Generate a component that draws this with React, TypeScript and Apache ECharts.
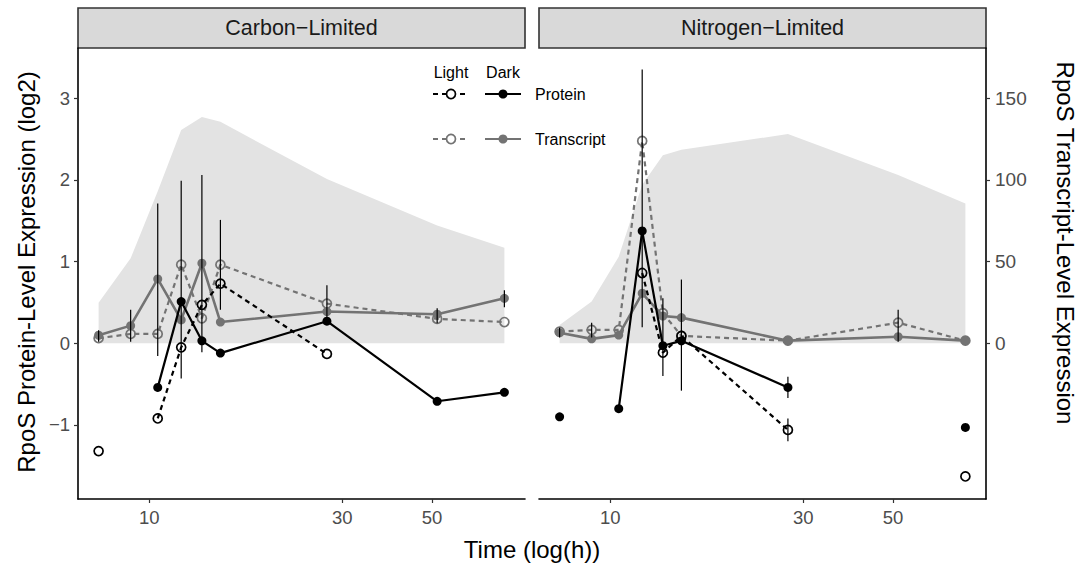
import React, { useEffect, useRef } from "react";
import * as echarts from "echarts";

// ---------- data ----------
const times = [7.5, 9, 10.5, 12, 13.5, 15, 27.5, 51.5, 75.5];
const panelTitles = ["Carbon\u2212Limited", "Nitrogen\u2212Limited"];
const xTickValues = [10, 30, 50];
const yTickValues = [-1, 0, 1, 2, 3];
const secTickValues = [0, 50, 100, 150];

// Carbon-limited (protein: log2, transcript & background: transcript scale)
const carbonArea = [24.8, 52, 93, 130.5, 138.5, 135.5, 100.5, 72, 58.5];
const carbonProteinDark = [null, null, -0.54, 0.51, 0.03, -0.12, 0.27, -0.71, -0.6];
const carbonProteinLight = [-1.32, null, -0.92, -0.05, 0.47, 0.73, -0.13, null, null];
const carbonTranscriptDark = [4.9, 10.8, 39.4, 14.3, 49, 13, 19.4, 17.8, 27.5];
const carbonTranscriptLight = [3.1, 5.7, 5.7, 48.1, 15.3, 48.1, 24.3, 14.9, 13];
const carbonErrorBars = [
  [7.5, 0.02, 0.16], [9, 0.02, 0.41], [10.5, -0.155, 1.71], [12, -0.43, 1.99],
  [13.5, -0.11, 2.06], [15, 0.41, 1.51], [27.5, 0.285, 0.71], [51.5, 0.245, 0.43],
  [75.5, 0.44, 0.65],
];

// Nitrogen-limited
const nitrogenArea = [11.2, 25.5, 53, 97, 115, 118.5, 128, 103, 85.5];
const nitrogenProteinDark = [-0.9, null, -0.8, 1.375, -0.03, 0.03, -0.54, null, -1.03];
const nitrogenProteinLight = [null, null, null, 0.86, -0.115, 0.09, -1.06, null, -1.63];
const nitrogenTranscriptDark = [6.5, 2.7, 5, 30.6, 16.7, 15.7, 1.6, 4, 1.6];
const nitrogenTranscriptLight = [7.1, 8.2, 8.2, 123.8, 18.4, 4.5, 1.6, 12.6, 1.6];
const nitrogenErrorBars = [
  [7.5, 0.07, 0.19], [9, 0.07, 0.25], [12, 0.196, 3.35], [13.5, -0.4, 0.55],
  [15, -0.58, 0.78], [27.5, -0.67, -0.41], [27.5, -1.2, -0.92], [51.5, 0.02, 0.41],
];

// ---------- styling ----------
const FONT = "'Liberation Sans', Arial, Helvetica, sans-serif";
const GREY = "#737373";
const AREA = "#e3e3e3";
const TICK_GREY = "#4d4d4d";
const Y_MIN = -1.906;
const Y_MAX = 3.614;
const SEC_FACTOR = 50;
const X_MIN = Math.log10(6.67);
const X_MAX = Math.log10(84.9);

const lg = (t: number) => Math.log10(t);

function pts(vals: (number | null)[]) {
  return times.map((t, i) => [lg(t), vals[i] == null ? null : vals[i]]);
}

function lineSeries(
  p: number,
  vals: (number | null)[],
  color: string,
  dashed: boolean,
  filled: boolean,
  secondary: boolean,
  width: number,
  z: number
) {
  return {
    type: "line",
    xAxisIndex: p,
    yAxisIndex: secondary ? 2 + p : p,
    data: pts(vals),
    connectNulls: false,
    symbol: "circle",
    symbolSize: 9,
    showSymbol: true,
    showAllSymbol: true,
    z,
    lineStyle: { color, width, type: dashed ? [5, 4] : "solid" },
    itemStyle: filled
      ? { color, borderColor: color, borderWidth: 0 }
      : { color: "rgba(255,255,255,0)", borderColor: color, borderWidth: 1.7 },
    emphasis: { disabled: true },
  };
}

function errorSeries(p: number, bars: number[][]) {
  return {
    type: "custom",
    xAxisIndex: p,
    yAxisIndex: p,
    z: 6,
    data: bars.map((b) => [lg(b[0]), b[1], b[2]]),
    encode: { x: 0, y: [1, 2] },
    renderItem: (params: any, api: any) => {
      const a = api.coord([api.value(0), api.value(1)]);
      const b = api.coord([api.value(0), api.value(2)]);
      return {
        type: "line",
        shape: { x1: a[0], y1: a[1], x2: b[0], y2: b[1] },
        style: { stroke: "#000", lineWidth: 1.2 },
      };
    },
  };
}

function areaSeries(p: number, vals: number[]) {
  return {
    type: "line",
    xAxisIndex: p,
    yAxisIndex: 2 + p,
    data: pts(vals),
    symbol: "none",
    z: 1,
    lineStyle: { width: 0, color: AREA },
    areaStyle: { color: AREA, opacity: 1 },
    emphasis: { disabled: true },
  };
}

const GRID_TOP = 48;
const GRID_H = 451;
const grids = [
  { left: 78, top: GRID_TOP, width: 447, height: GRID_H },
  { left: 539, top: GRID_TOP, width: 447, height: GRID_H },
];

function xAxis(p: number) {
  return {
    type: "value",
    gridIndex: p,
    min: X_MIN,
    max: X_MAX,
    splitLine: { show: false },
    axisLine: { show: true, onZero: false, lineStyle: { color: "#000", width: 1.6 } },
    axisTick: {
      show: true,
      length: 4,
      customValues: xTickValues.map(lg),
      lineStyle: { color: "#333", width: 1.2 },
    },
    axisLabel: {
      show: true,
      customValues: xTickValues.map(lg),
      formatter: (v: number) => String(Math.round(Math.pow(10, v))),
      color: TICK_GREY,
      fontSize: 18.5,
      fontFamily: FONT,
      margin: 9,
    },
  };
}

function yAxisPrimary(p: number) {
  return {
    type: "value",
    gridIndex: p,
    position: "left",
    min: Y_MIN,
    max: Y_MAX,
    splitLine: { show: false },
    axisLine: { show: p === 0, onZero: false, lineStyle: { color: "#000", width: 1.6 } },
    axisTick: {
      show: p === 0,
      length: 4,
      customValues: yTickValues,
      lineStyle: { color: "#333", width: 1.2 },
    },
    axisLabel: {
      show: p === 0,
      customValues: yTickValues,
      color: TICK_GREY,
      fontSize: 18.5,
      fontFamily: FONT,
      margin: 8,
      formatter: (v: number) => (v < 0 ? "\u2212" + Math.abs(v) : String(v)),
    },
  };
}

function yAxisSecondary(p: number) {
  return {
    type: "value",
    gridIndex: p,
    position: "right",
    min: Y_MIN * SEC_FACTOR,
    max: Y_MAX * SEC_FACTOR,
    splitLine: { show: false },
    axisLine: { show: p === 1, onZero: false, lineStyle: { color: "#000", width: 1.6 } },
    axisTick: {
      show: p === 1,
      length: 4,
      customValues: secTickValues,
      lineStyle: { color: "#333", width: 1.2 },
    },
    axisLabel: {
      show: p === 1,
      customValues: secTickValues,
      color: TICK_GREY,
      fontSize: 19,
      fontFamily: FONT,
      margin: 9,
    },
  };
}

function strip(p: number) {
  const g = grids[p];
  return {
    type: "group",
    children: [
      {
        type: "rect",
        shape: { x: g.left, y: 8, width: g.width, height: 40 },
        style: { fill: "#d9d9d9", stroke: "#333", lineWidth: 1.6 },
      },
      {
        type: "text",
        x: g.left + g.width / 2,
        y: 28,
        style: {
          text: panelTitles[p],
          fill: "#1a1a1a",
          font: `21.5px ${FONT}`,
          align: "center",
          verticalAlign: "middle",
        },
      },
    ],
  };
}

function legendGraphic() {
  const lightX = 451;
  const darkX = 503;
  const rows = [
    { y: 94, color: "#000", label: "Protein" },
    { y: 139, color: GREY, label: "Transcript" },
  ];
  const children: any[] = [
    {
      type: "text",
      x: lightX,
      y: 72,
      style: { text: "Light", fill: "#000", font: `16px ${FONT}`, align: "center", verticalAlign: "middle" },
    },
    {
      type: "text",
      x: darkX,
      y: 72,
      style: { text: "Dark", fill: "#000", font: `16px ${FONT}`, align: "center", verticalAlign: "middle" },
    },
  ];
  rows.forEach((r) => {
    children.push(
      {
        type: "line",
        shape: { x1: lightX - 18, y1: r.y, x2: lightX + 18, y2: r.y },
        style: { stroke: r.color, lineWidth: 2, lineDash: [5, 4] },
      },
      {
        type: "circle",
        shape: { cx: lightX, cy: r.y, r: 4.5 },
        style: { fill: "#fff", stroke: r.color, lineWidth: 1.7 },
      },
      {
        type: "line",
        shape: { x1: darkX - 18, y1: r.y, x2: darkX + 18, y2: r.y },
        style: { stroke: r.color, lineWidth: 2.2 },
      },
      {
        type: "circle",
        shape: { cx: darkX, cy: r.y, r: 4.5 },
        style: { fill: r.color, stroke: r.color, lineWidth: 0 },
      },
      {
        type: "text",
        x: 535,
        y: r.y,
        style: { text: r.label, fill: "#000", font: `16px ${FONT}`, align: "left", verticalAlign: "middle" },
      }
    );
  });
  return { type: "group", z: 100, children };
}

function buildOption() {
  const series: any[] = [];
  const panelData = [
    {
      area: carbonArea,
      pd: carbonProteinDark,
      pl: carbonProteinLight,
      td: carbonTranscriptDark,
      tl: carbonTranscriptLight,
      eb: carbonErrorBars,
    },
    {
      area: nitrogenArea,
      pd: nitrogenProteinDark,
      pl: nitrogenProteinLight,
      td: nitrogenTranscriptDark,
      tl: nitrogenTranscriptLight,
      eb: nitrogenErrorBars,
    },
  ];
  panelData.forEach((d, p) => {
    series.push(areaSeries(p, d.area));
    series.push(lineSeries(p, d.td, GREY, false, true, true, 2.6, 2));
    series.push(lineSeries(p, d.tl, GREY, true, false, true, 2.2, 2));
    series.push(lineSeries(p, d.pd, "#000", false, true, false, 2.2, 3));
    series.push(lineSeries(p, d.pl, "#000", true, false, false, 2.2, 3));
    series.push(errorSeries(p, d.eb));
  });

  return {
    animation: false,
    backgroundColor: "#fff",
    textStyle: { fontFamily: FONT },
    grid: grids,
    xAxis: [xAxis(0), xAxis(1)],
    yAxis: [yAxisPrimary(0), yAxisPrimary(1), yAxisSecondary(0), yAxisSecondary(1)],
    series,
    graphic: [
      strip(0),
      strip(1),
      legendGraphic(),
      {
        type: "text",
        x: 532,
        y: 549,
        style: {
          text: "Time (log(h))",
          fill: "#000",
          font: `24px ${FONT}`,
          align: "center",
          verticalAlign: "middle",
        },
      },
      {
        type: "text",
        x: 26,
        y: 272,
        rotation: Math.PI / 2,
        style: {
          text: "RpoS Protein-Level Expression (log2)",
          fill: "#000",
          font: `24px ${FONT}`,
          align: "center",
          verticalAlign: "middle",
        },
      },
      {
        type: "text",
        x: 1065,
        y: 243,
        rotation: -Math.PI / 2,
        style: {
          text: "RpoS Transcript-Level Expression",
          fill: "#000",
          font: `24px ${FONT}`,
          align: "center",
          verticalAlign: "middle",
        },
      },
    ],
  };
}

export default function App() {
  const ref = useRef<HTMLDivElement>(null);
  useEffect(() => {
    if (!ref.current) return;
    const chart = echarts.init(ref.current, undefined, { renderer: "svg" });
    chart.setOption(buildOption() as any);
    return () => chart.dispose();
  }, []);
  return (
    <div
      ref={ref}
      style={{ position: "fixed", left: 0, top: 0, width: 1080, height: 567, background: "#fff" }}
    />
  );
}
